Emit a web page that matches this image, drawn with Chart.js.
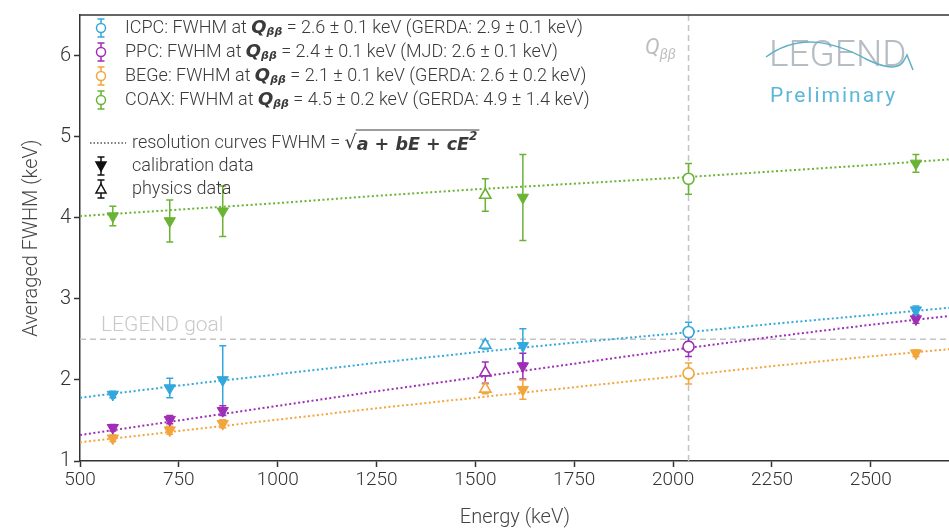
<!DOCTYPE html>
<html>
<head>
<meta charset="utf-8">
<script src="https://cdn.jsdelivr.net/npm/chart.js@4/dist/chart.umd.min.js"></script>
<style>
  html, body { margin: 0; background: #fff; overflow: hidden; }
  #wrap { width: 949px; height: 530px; overflow: hidden; }
</style>
</head>
<body>
<div id="wrap"><canvas id="chart-fwhm" width="958" height="530"></canvas></div>
<script>
// energies (keV)
var calibE = [583, 727, 861, 1620, 2614];
var physE = [1525];
var qbbE = [2039];
var curveE = [500, 750, 1000, 1250, 1500, 1750, 2000, 2250, 2500, 2700];
var xTicks = [500, 750, 1000, 1250, 1500, 1750, 2000, 2250, 2500];
var yTicks = [1, 2, 3, 4, 5, 6];

// ICPC
var icpcCal = [1.82, 1.90, 2.00, 2.42, 2.86];
var icpcCalErr = [0.04, 0.12, 0.42, 0.21, 0.05];
var icpcPhys = [2.43];
var icpcPhysErr = [0.05];
var icpcQbb = [2.59];
var icpcQbbErr = [0.12];
var icpcCurve = [1.78, 1.93, 2.07, 2.21, 2.34, 2.46, 2.57, 2.69, 2.80, 2.89];

// PPC
var ppcCal = [1.41, 1.51, 1.62, 2.17, 2.75];
var ppcCalErr = [0.04, 0.05, 0.06, 0.16, 0.05];
var ppcPhys = [2.09];
var ppcPhysErr = [0.13];
var ppcQbb = [2.41];
var ppcQbbErr = [0.12];
var ppcCurve = [1.32, 1.50, 1.68, 1.86, 2.03, 2.20, 2.37, 2.53, 2.68, 2.79];

// BEGe
var begeCal = [1.28, 1.38, 1.46, 1.88, 2.33];
var begeCalErr = [0.04, 0.05, 0.05, 0.12, 0.04];
var begePhys = [1.89];
var begePhysErr = [0.06];
var begeQbb = [2.08];
var begeQbbErr = [0.13];
var begeCurve = [1.23, 1.37, 1.51, 1.65, 1.78, 1.91, 2.04, 2.17, 2.29, 2.38];

// COAX
var coaxCal = [4.02, 3.96, 4.08, 4.25, 4.67];
var coaxCalErr = [0.12, 0.26, 0.31, 0.53, 0.11];
var coaxPhys = [4.28];
var coaxPhysErr = [0.20];
var coaxQbb = [4.48];
var coaxQbbErr = [0.19];
var coaxCurve = [4.02, 4.10, 4.18, 4.27, 4.35, 4.42, 4.49, 4.57, 4.65, 4.72];

var goalFwhm = 2.5;
var qbbLine = 2039;

var legendRows = [
  ["ICPC: FWHM at ", " = 2.6 ± 0.1 keV (GERDA: 2.9 ± 0.1 keV)"],
  ["PPC: FWHM at ", " = 2.4 ± 0.1 keV (MJD: 2.6 ± 0.1 keV)"],
  ["BEGe: FWHM at ", " = 2.1 ± 0.1 keV (GERDA: 2.6 ± 0.2 keV)"],
  ["COAX: FWHM at ", " = 4.5 ± 0.2 keV (GERDA: 4.9 ± 1.4 keV)"]
];

var BLUE = "#33a8dc", PURPLE = "#a02db6", ORANGE = "#f3a53c", GREEN = "#6ab334";
var TXT = "Roboto, 'Noto Sans', sans-serif";
var MATH = "'DejaVu Sans', sans-serif";
var LFONT = "300 18px " + TXT;

function pts(xs, ys) {
  return xs.map(function(x, i) { return {x: x, y: ys[i]}; });
}

function detector(color, cal, calErr, phys, physErr, qbb, qbbErr, curve) {
  return [
    { data: pts(curveE, curve), showLine: true, borderColor: color, borderWidth: 2,
      borderDash: [2, 2.5], pointRadius: 0, fill: false, order: 10 },
    { data: pts(calibE, cal), errors: calErr, borderColor: color, backgroundColor: color,
      pointStyle: "triangle", rotation: 180, pointRadius: 6.5, borderWidth: 1, order: 1 },
    { data: pts(physE, phys), errors: physErr, borderColor: color, backgroundColor: "#fff",
      pointStyle: "triangle", pointRadius: 6.5, borderWidth: 1.6, order: 1 },
    { data: pts(qbbE, qbb), errors: qbbErr, borderColor: color, backgroundColor: "#fff",
      pointStyle: "circle", pointRadius: 5.5, borderWidth: 1.6, order: 1 }
  ];
}

var datasets = [].concat(
  detector(BLUE, icpcCal, icpcCalErr, icpcPhys, icpcPhysErr, icpcQbb, icpcQbbErr, icpcCurve),
  detector(PURPLE, ppcCal, ppcCalErr, ppcPhys, ppcPhysErr, ppcQbb, ppcQbbErr, ppcCurve),
  detector(ORANGE, begeCal, begeCalErr, begePhys, begePhysErr, begeQbb, begeQbbErr, begeCurve),
  detector(GREEN, coaxCal, coaxCalErr, coaxPhys, coaxPhysErr, coaxQbb, coaxQbbErr, coaxCurve)
);

// draws horizontal runs of text with different fonts
function drawRuns(ctx, x, y, runs) {
  runs.forEach(function(r) {
    ctx.font = r.f;
    ctx.fillText(r.t, x, y + (r.dy || 0));
    x += ctx.measureText(r.t).width;
  });
  return x;
}

function errMarker(ctx, x, y, color, kind) {
  ctx.save();
  ctx.strokeStyle = color;
  ctx.lineWidth = 1.5;
  ctx.beginPath();
  ctx.moveTo(x, y - 9); ctx.lineTo(x, y + 9);
  ctx.moveTo(x - 3.5, y - 9); ctx.lineTo(x + 3.5, y - 9);
  ctx.moveTo(x - 3.5, y + 9); ctx.lineTo(x + 3.5, y + 9);
  ctx.stroke();
  ctx.beginPath();
  if (kind == "circle") {
    ctx.arc(x, y, 4.5, 0, Math.PI * 2);
    ctx.fillStyle = "#fff";
  } else if (kind == "down") {
    ctx.moveTo(x - 5, y - 4); ctx.lineTo(x + 5, y - 4); ctx.lineTo(x, y + 5); ctx.closePath();
    ctx.fillStyle = color;
  } else {
    ctx.moveTo(x - 5, y + 4); ctx.lineTo(x + 5, y + 4); ctx.lineTo(x, y - 5); ctx.closePath();
    ctx.fillStyle = "#fff";
  }
  ctx.fill();
  ctx.stroke();
  ctx.restore();
}

var errorBars = {
  id: "errorBars",
  beforeDatasetsDraw: function(chart) {
    var ctx = chart.ctx, x = chart.scales.x, y = chart.scales.y;
    var area = chart.chartArea;
    ctx.save();
    // LEGEND goal line and Q_bb line
    ctx.strokeStyle = "#c4c4c4";
    ctx.lineWidth = 1.5;
    ctx.setLineDash([6, 4]);
    ctx.beginPath();
    ctx.moveTo(area.left, y.getPixelForValue(goalFwhm));
    ctx.lineTo(area.right, y.getPixelForValue(goalFwhm));
    ctx.moveTo(x.getPixelForValue(qbbLine), area.top);
    ctx.lineTo(x.getPixelForValue(qbbLine), area.bottom);
    ctx.stroke();
    ctx.setLineDash([]);
    chart.data.datasets.forEach(function(ds) {
      if (!ds.errors) return;
      ctx.strokeStyle = ds.borderColor;
      ctx.lineWidth = 1.5;
      ds.data.forEach(function(p, j) {
        var px = x.getPixelForValue(p.x);
        var t = y.getPixelForValue(p.y + ds.errors[j]);
        var b = y.getPixelForValue(p.y - ds.errors[j]);
        ctx.beginPath();
        ctx.moveTo(px, t); ctx.lineTo(px, b);
        ctx.moveTo(px - 3.5, t); ctx.lineTo(px + 3.5, t);
        ctx.moveTo(px - 3.5, b); ctx.lineTo(px + 3.5, b);
        ctx.stroke();
      });
    });
    ctx.restore();
  }
};

var overlay = {
  id: "overlay",
  afterDraw: function(chart) {
    var ctx = chart.ctx, area = chart.chartArea;
    ctx.save();
    // top frame
    ctx.strokeStyle = "#333";
    ctx.lineWidth = 1.5;
    ctx.beginPath();
    ctx.moveTo(area.left, area.top); ctx.lineTo(area.right, area.top);
    ctx.stroke();

    // LEGEND goal text
    ctx.fillStyle = "#c9c9c9";
    ctx.font = "300 21px " + TXT;
    ctx.textBaseline = "alphabetic";
    ctx.fillText("LEGEND goal", 101, 331);

    // Q_bb label
    ctx.fillStyle = "#bdbdbd";
    drawRuns(ctx, 645, 54, [
      {t: "Q", f: "italic 22px " + TXT},
      {t: "ββ", f: "italic 14px " + TXT, dy: 5}
    ]);

    // logo
    ctx.fillStyle = "#b4bcc4";
    ctx.font = "300 37px " + TXT;
    ctx.fillText("LEGEND", 769, 66);
    ctx.strokeStyle = "#5fb0c6";
    ctx.lineWidth = 1.5;
    ctx.beginPath();
    ctx.moveTo(766, 57);
    ctx.bezierCurveTo(800, 32, 835, 42, 868, 60);
    ctx.bezierCurveTo(885, 68, 897, 70, 903, 62);
    ctx.lineTo(907, 55);
    ctx.lineTo(913, 70);
    ctx.stroke();
    ctx.fillStyle = "#5cb6d6";
    ctx.font = "21px " + TXT;
    ctx.letterSpacing = "2px";
    ctx.fillText("Preliminary", 770, 102);
    ctx.letterSpacing = "0px";

    // legend
    var colors = [BLUE, PURPLE, ORANGE, GREEN];
    var rowY = [28, 52, 76, 100];
    ctx.textBaseline = "middle";
    legendRows.forEach(function(row, i) {
      errMarker(ctx, 101, rowY[i], colors[i], "circle");
      ctx.fillStyle = "#3a3a3a";
      drawRuns(ctx, 125, rowY[i], [
        {t: row[0], f: LFONT},
        {t: "Q", f: "bold italic 18px " + MATH},
        {t: "ββ", f: "bold italic 11px " + MATH, dy: 4},
        {t: row[1], f: LFONT}
      ]);
    });
    // resolution curve entry
    ctx.strokeStyle = "#555";
    ctx.lineWidth = 1.5;
    ctx.setLineDash([1.5, 2]);
    ctx.beginPath();
    ctx.moveTo(90, 143); ctx.lineTo(126, 143);
    ctx.stroke();
    ctx.setLineDash([]);
    ctx.fillStyle = "#3a3a3a";
    var sx = drawRuns(ctx, 132, 143, [{t: "resolution curves FWHM = ", f: LFONT}]);
    ctx.font = "19px " + MATH;
    ctx.fillText("√", sx, 143);
    var mx = sx + ctx.measureText("√").width;
    var ex = drawRuns(ctx, mx, 145, [
      {t: "a + bE + cE", f: "bold italic 17.5px " + MATH},
      {t: "2", f: "bold italic 12px " + MATH, dy: -8}
    ]);
    ctx.lineWidth = 1;
    ctx.strokeStyle = "#3a3a3a";
    ctx.beginPath();
    ctx.moveTo(mx - 1, 130); ctx.lineTo(ex + 2, 130);
    ctx.stroke();
    errMarker(ctx, 101, 166, "#111", "down");
    errMarker(ctx, 101, 189, "#111", "up");
    drawRuns(ctx, 132, 166, [{t: "calibration data", f: LFONT}]);
    drawRuns(ctx, 132, 189, [{t: "physics data", f: LFONT}]);
    ctx.restore();
  }
};

var canvas = document.getElementById("chart-fwhm");
var chart = new Chart(canvas.getContext("2d"), {
  type: "scatter",
  data: { datasets: datasets },
  plugins: [errorBars, overlay],
  options: {
    responsive: false,
    animation: false,
    devicePixelRatio: 1,
    layout: { padding: { top: 7, right: 0, left: 0, bottom: 0 } },
    plugins: { legend: { display: false }, tooltip: { enabled: false } },
    scales: {
      x: {
        type: "linear", min: 500, max: 2700,
        afterBuildTicks: function(s) { s.ticks = xTicks.map(function(v) { return {value: v}; }); },
        ticks: { color: "#333", font: { family: TXT, size: 19, weight: "300" }, padding: 2,
          callback: function(v) { return String(v); } },
        grid: { drawOnChartArea: false, tickLength: 6, color: "#333", tickWidth: 1.5 },
        border: { color: "#333", width: 1.5 },
        title: { display: true, text: "Energy (keV)", color: "#444", font: { family: TXT, size: 20, weight: "300" }, padding: { top: 2, bottom: 0 } },
        afterFit: function(s) { s.height = 69; }
      },
      y: {
        min: 1, max: 6.5,
        afterBuildTicks: function(s) { s.ticks = yTicks.map(function(v) { return {value: v}; }); },
        ticks: { color: "#333", font: { family: TXT, size: 20, weight: "300" }, padding: 3 },
        grid: { drawOnChartArea: false, tickLength: 6, color: "#333", tickWidth: 1.5 },
        border: { color: "#333", width: 1.5 },
        title: { display: true, text: "Averaged FWHM (keV)", color: "#444", font: { family: TXT, size: 20, weight: "300" }, padding: { top: 20, bottom: 0 } },
        afterFit: function(s) { s.width = 80; }
      }
    }
  }
});
</script>
</body>
</html>
